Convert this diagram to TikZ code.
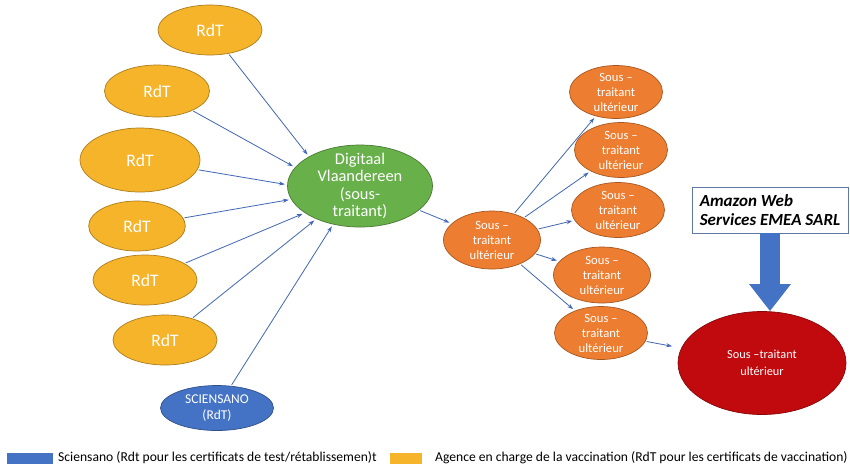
\documentclass[tikz,border=0pt]{standalone}
\usepackage{fontspec}
\setmainfont{Carlito}
\usetikzlibrary{shapes.geometric, arrows.meta}

\definecolor{rdtgold}{RGB}{245,180,42}
\definecolor{suborange}{RGB}{237,125,49}
\definecolor{dvgreen}{RGB}{104,176,74}
\definecolor{sciblue}{RGB}{68,114,196}
\definecolor{awsred}{RGB}{192,10,14}
\definecolor{linkblue}{RGB}{68,104,180}

\begin{document}
\begin{tikzpicture}[x=0.03cm, y=-0.03cm,
    blob/.style={ellipse, draw=#1!70!black, fill=#1, line width=0.6pt, inner sep=0pt},
    rdt/.style={blob=rdtgold, label={[text=white, font=\fontsize{15}{17}\selectfont]center:RdT}},
    later/.style={blob=suborange, label={[text=white, align=center, font=\fontsize{10.8}{12.75}\selectfont]center:Sous –\\traitant\\ultérieur}},
    link/.style={draw=linkblue, line width=0.7pt, -{Stealth[length=5pt, width=3.5pt]}, shorten >=2pt, shorten <=1pt},
    keybox/.style={rectangle, inner sep=0pt, minimum height=0.33cm},
    keytext/.style={anchor=west, inner sep=0pt, font=\fontsize{11.6}{13}\selectfont}]
    \useasboundingbox (0,0) rectangle (850,465);

    % Nodes
    \node[rdt, minimum width=3.12cm, minimum height=1.5cm] (rdtA) at (210,30) {};
    \node[rdt, minimum width=3.15cm, minimum height=1.56cm] (rdtB) at (157,91) {};
    \node[rdt, minimum width=3.6cm, minimum height=1.92cm] (rdtC) at (140,160) {};
    \node[rdt, minimum width=2.9cm, minimum height=1.5cm] (rdtD) at (137,226) {};
    \node[rdt, minimum width=3.12cm, minimum height=1.5cm] (rdtE) at (145,280) {};
    \node[rdt, minimum width=3.12cm, minimum height=1.5cm] (rdtF) at (165,340) {};
    \node[blob=sciblue, minimum width=3.39cm, minimum height=1.35cm,
          label={[text=white, align=center, font=\fontsize{11.5}{13}\selectfont]center:SCIENSANO\\(RdT)}] (sci) at (217,408) {};

    \node[blob=dvgreen, minimum width=4.35cm, minimum height=2.46cm,
          label={[text=white, align=center, font=\fontsize{14}{14.7}\selectfont]center:Digitaal\\Vlaandereen\\(sous-\\traitant)}] (dv) at (360,186) {};
    \node[later, minimum width=2.91cm, minimum height=1.74cm] (sub) at (492,240) {};

    \node[later, minimum width=2.79cm, minimum height=1.59cm] (subA) at (616,92) {};
    \node[later, minimum width=2.79cm, minimum height=1.65cm] (subB) at (621,150) {};
    \node[later, minimum width=2.79cm, minimum height=1.65cm] (subC) at (618,210) {};
    \node[later, minimum width=2.91cm, minimum height=1.68cm] (subD) at (602,275) {};
    \node[later, minimum width=2.79cm, minimum height=1.59cm] (subE) at (601,333) {};

    \node[blob=awsred, minimum width=5.04cm, minimum height=3.09cm,
          label={[text=white, align=center, font=\fontsize{10.5}{15}\selectfont]center:Sous –traitant\\ultérieur}] (aws) at (762,363) {};
    \node[rectangle, draw=sciblue!55!gray, fill=white, line width=0.6pt, minimum width=4.68cm, minimum height=1.38cm,
          align=left, font=\fontsize{14.5}{16.5}\selectfont\bfseries\itshape] (amazon) at (770,210)
          {Amazon Web\\Services EMEA SARL};

    % Lines
    \draw[link] (rdtA) -- (dv.150);
    \draw[link] (rdtB) -- (dv.164);
    \draw[link] (rdtC) -- (dv.179);
    \draw[link] (rdtD) -- (dv.191);
    \draw[link] (rdtE) -- (dv.206);
    \draw[link] (rdtF) -- (dv.217);
    \draw[link] (sci) -- (dv.235);
    \draw[link] (dv) -- (sub);
    \draw[link] (sub) -- (subA);
    \draw[link] (sub) -- (subB);
    \draw[link] (sub) -- (subC);
    \draw[link] (sub) -- (subD);
    \draw[link] (sub) -- (subE);
    \draw[link, shorten >=8pt] (subE) -- (aws);
    \draw[draw=sciblue, line width=17pt,
          -{Triangle[length=23pt, width=34pt, fill=sciblue]}] (amazon.south) -- (amazon.south |- aws.north);

    % Legend
    \node[keybox, fill=sciblue, minimum width=1.38cm] (keySci) at (30,458) {};
    \node[keytext] (keySciText) at (58,458) {Sciensano (Rdt pour les certificats de test/rétablissemen)t};
    \node[keybox, fill=rdtgold, minimum width=0.96cm] (keyRdt) at (406,458) {};
    \node[keytext] (keyRdtText) at (435,458) {Agence en charge de la vaccination (RdT pour les certificats de vaccination)};
\end{tikzpicture}
\end{document}
